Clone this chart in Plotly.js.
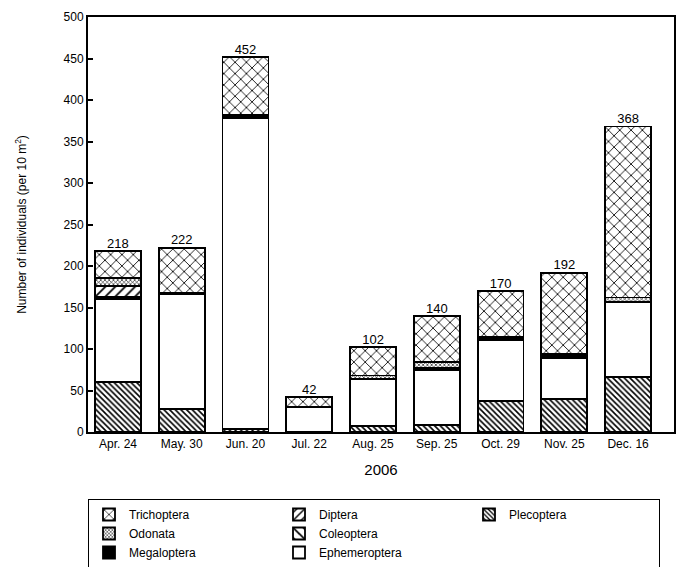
<!DOCTYPE html>
<html><head><meta charset="utf-8">
<script src="https://cdn.plot.ly/plotly-3.0.1.min.js"></script>
<style>html,body{margin:0;padding:0;background:#fff}#c{width:697px;height:567px}</style>
</head><body><div id="c"></div>
<script>
const dates = ["Apr. 24","May. 30","Jun. 20","Jul. 22","Aug. 25","Sep. 25","Oct. 29","Nov. 25","Dec. 16"];
const plecoptera    = [60, 28, 4, null, 7, 8, 37, 40, 66];
const coleoptera    = [null, null, null, null, null, null, null, null, null];
const ephemeroptera = [100, 138, 374, 30, 57, 66, 74, 49, 91];
const megaloptera   = [3, 2, 4, null, null, 3, 3, 5, null];
const diptera       = [13, null, null, null, null, null, null, null, null];
const odonata       = [10, null, null, null, 4, 7, null, null, 5];
const trichoptera   = [32, 54, 70, 12, 34, 56, 56, 98, 206];
const totals        = [218, 222, 452, 42, 102, 140, 170, 192, 368];

const font = {family: "Liberation Sans, Arial, sans-serif", size: 12, color: "#000"};
const line = {color: "#000", width: 1.8};
function bar(name, y, pattern, color, rank) {
  const m = {color: color || "#fff", line: line};
  if (pattern) m.pattern = Object.assign({fgcolor: "#000", bgcolor: "#fff", fillmode: "replace"}, pattern);
  return {type: "bar", name: name, x: dates, y: y, marker: m, width: 0.72, legendrank: rank, hoverinfo: "skip"};
}
const spacer = {type: "bar", name: " ", x: dates, y: coleoptera, legendrank: 5.5, hoverinfo: "skip",
                marker: {color: "rgba(0,0,0,0)", line: {width: 0}}};
const traces = [
  bar("Plecoptera", plecoptera, {shape: "\\", size: 4, solidity: 0.4}, null, 3),
  bar("Coleoptera", coleoptera, {shape: "\\", size: 9, solidity: 0.25}, null, 5),
  bar("Ephemeroptera", ephemeroptera, null, "#fff", 7),
  bar("Megaloptera", megaloptera, null, "#000", 6),
  bar("Diptera", diptera, {shape: "/", size: 7, solidity: 0.25}, null, 2),
  bar("Odonata", odonata, {shape: "x", size: 3, solidity: 0.35}, null, 4),
  bar("Trichoptera", trichoptera, {shape: "x", size: 8, solidity: 0.2}, null, 1),
  spacer,
  {type: "scatter", mode: "text", x: dates, y: totals, text: totals.map(String),
   textposition: "top center", textfont: {family: font.family, size: 13, color: "#000"},
   showlegend: false, hoverinfo: "skip"}
];
const layout = {
  width: 697, height: 567,
  margin: {l: 88, r: 23, t: 17, b: 135},
  paper_bgcolor: "#fff", plot_bgcolor: "#fff",
  barmode: "stack", font: font,
  xaxis: {range: [-0.47, 8.72], showline: true, mirror: true, linecolor: "#000", linewidth: 2,
          ticks: "", showgrid: false, zeroline: false, tickfont: {size: 12},
          title: {text: "2006", font: {size: 15}, standoff: 14}},
  yaxis: {range: [0, 500], dtick: 50, showline: true, mirror: true, linecolor: "#000", linewidth: 2,
          ticks: "inside", ticklen: 5, tickwidth: 2, tickcolor: "#000", showgrid: false, zeroline: false,
          tickfont: {size: 12},
          title: {text: "Number of individuals (per 10 m<sup>2</sup>)", font: {size: 12}, standoff: 34}},
  legend: {orientation: "h", xref: "container", yref: "container", x: 88/697, xanchor: "left",
           y: 1 - 499/567, yanchor: "top",
           entrywidth: 145, entrywidthmode: "pixels", traceorder: "normal",
           bordercolor: "#000", borderwidth: 1, bgcolor: "#fff", font: {size: 12},
           tracegroupgap: 0, itemwidth: 30}
};
Plotly.newPlot("c", traces, layout, {displayModeBar: false, staticPlot: true});
</script></body></html>
